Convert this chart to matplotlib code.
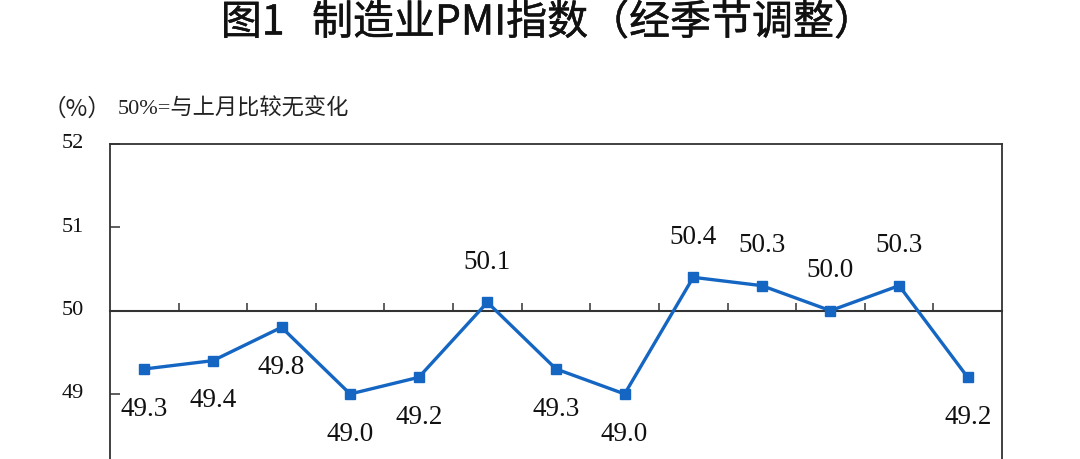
import matplotlib
matplotlib.use("Agg")
import matplotlib.pyplot as plt
import matplotlib.patheffects as pe
from matplotlib.ticker import FixedLocator

# ---- data ----
months = ["2025年7月", "8月", "9月", "10月", "11月", "12月", "2026年1月",
          "2月", "3月", "4月", "5月", "6月", "7月"]
pmi = [49.3, 49.4, 49.8, 49.0, 49.2, 50.1, 49.3, 49.0, 50.4, 50.3, 50.0, 50.3, 49.2]
label_above = [False, False, False, False, False, True, False, False, True, True, True, True, False]
y_ticks = [49, 50, 51, 52]
y_tick_labels = ["49", "50", "51", "52"]
title = "图1   制造业PMI指数（经季节调整）"
unit_note = "（%）"
ref_note = "50%=与上月比较无变化"

W, H, DPI = 1080, 459, 100
fig = plt.figure(figsize=(W / DPI, H / DPI), dpi=DPI)
fig.patch.set_facecolor("white")

ax_left, ax_right = 110 / W, 1002 / W
ax_top = 1 - 144 / H
ax_h = 333.3 / H
ax = fig.add_axes([ax_left, ax_top - ax_h, ax_right - ax_left, ax_h])

x = list(range(len(pmi)))
blue = "#1466C2"
ax.plot(x, pmi, color=blue, lw=2.4, marker="s", ms=7.5, mec=blue, mfc=blue, zorder=3)

serif = ["Liberation Serif", "Noto Sans CJK SC"]
for xi, v, up in zip(x, pmi, label_above):
    ax.annotate(f"{v:.1f}", (xi, v), xytext=(0, 29 if up else -29),
                textcoords="offset points", ha="center", va="center",
                fontsize=19.5, family=serif, color="#111111")

ax.set_xlim(-0.5, len(pmi) - 0.5)
ax.set_ylim(48, 52)

spine_c = "#333333"
for s in ["left", "right", "top"]:
    ax.spines[s].set_color(spine_c)
    ax.spines[s].set_linewidth(1.3)
ax.spines["bottom"].set_position(("data", 50))
ax.spines["bottom"].set_color(spine_c)
ax.spines["bottom"].set_linewidth(1.5)

ax.xaxis.set_major_locator(FixedLocator([i + 0.5 for i in range(len(pmi) - 1)]))
ax.tick_params(axis="x", direction="in", length=6, width=1.1, color=spine_c,
               labelbottom=False)
ax.set_yticks(y_ticks)
ax.set_yticklabels(y_tick_labels, family=serif, fontsize=16, color="#111111")
ax.tick_params(axis="y", direction="in", length=7, width=1.1, color=spine_c, pad=18.5)
for lab in ax.get_yticklabels():
    lab.set_verticalalignment("center")

t = fig.text(548 / W, 1 - 23 / H, title, ha="center", va="center",
             fontsize=29.5, family=["Noto Sans CJK SC", "DejaVu Sans"], color="#111111")
t.set_path_effects([pe.withStroke(linewidth=0.35, foreground="#111111")])
fig.text(77 / W, 1 - 109 / H, unit_note, ha="center", va="center",
         fontsize=17, family=["Noto Sans CJK SC"], color="#222222")
fig.text(118 / W, 1 - 109 / H, ref_note, ha="left", va="center",
         fontsize=16, family=serif, color="#222222")

fig.savefig("out.png", dpi=DPI, facecolor="white")
